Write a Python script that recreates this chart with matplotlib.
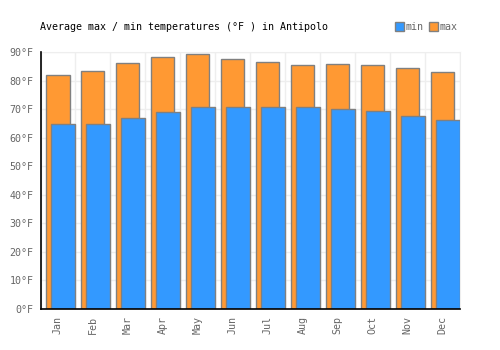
import numpy as np
import matplotlib.pyplot as plt
from matplotlib.patches import Patch

months = ["Jan", "Feb", "Mar", "Apr", "May", "Jun", "Jul", "Aug", "Sep", "Oct", "Nov", "Dec"]
tmax = [82.1, 83.5, 86.1, 88.2, 89.3, 87.5, 86.5, 85.4, 85.8, 85.4, 84.4, 83.0]
tmin = [64.7, 64.7, 66.8, 69.0, 70.8, 70.8, 70.8, 70.8, 70.0, 69.3, 67.5, 66.1]

plt.rcParams['font.family'] = ['DejaVu Sans Mono']
fs = 7.2

fig = plt.figure(figsize=(5, 3.5), dpi=100)
ax = fig.add_axes([0.081, 0.1177, 0.839, 0.7329])

x = np.arange(len(months))
ax.bar(x + 0.17, tmax, width=0.66, align='edge', color='#ff9933',
       edgecolor='#808080', linewidth=1, zorder=2, label='max')
ax.bar(x + 0.31, tmin, width=0.69, align='edge', color='#3399ff',
       edgecolor='#808080', linewidth=1, zorder=3, label='min')

ax.set_xlim(0, 12)
ax.set_ylim(0, 90)
ax.set_yticks(range(0, 91, 10))
ax.set_yticklabels([f"{v}°F" for v in range(0, 91, 10)], fontsize=fs, color='#666666')
ax.set_xticks(x + 0.5)
ax.set_xticklabels(months, rotation=90, fontsize=fs, color='#666666')
ax.set_xticks(np.arange(0, 13), minor=True)
ax.tick_params(axis='both', which='both', length=0, pad=5)
ax.grid(True, which='minor', axis='x', color='#eeeeee', linewidth=1, zorder=0)
ax.grid(True, which='major', axis='y', color='#eeeeee', linewidth=1, zorder=0)
ax.grid(False, which='major', axis='x')
ax.set_axisbelow(True)
for s in ['top', 'right']:
    ax.spines[s].set_color('#eeeeee')
for s in ['left', 'bottom']:
    ax.spines[s].set_color('black')
    ax.spines[s].set_linewidth(1.2)
    ax.spines[s].set_zorder(5)

fig.text(0.08, 0.923, "Average max / min temperatures (°F ) in Antipolo",
         fontsize=fs, color='black', va='center', ha='left')

handles = [Patch(facecolor='#3399ff', edgecolor='#808080', label='min'),
           Patch(facecolor='#ff9933', edgecolor='#808080', label='max')]
leg = fig.legend(handles=handles, loc='center right', bbox_to_anchor=(0.925, 0.923),
                 ncol=2, frameon=False, fontsize=fs, handlelength=0.9, handleheight=0.9,
                 handletextpad=0.2, columnspacing=0.5, borderpad=0)
for t in leg.get_texts():
    t.set_color('#666666')

fig.savefig("out.png", dpi=100)
